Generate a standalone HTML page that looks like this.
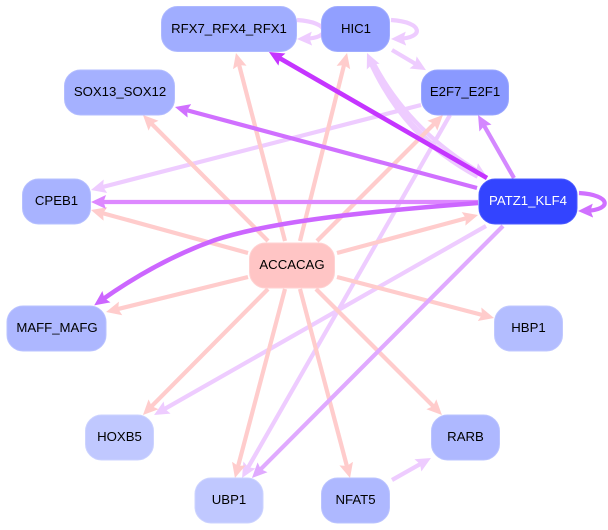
<!DOCTYPE html>
<html>
<head>
<meta charset="utf-8">
<style>
html,body{margin:0;padding:0;background:#fff;width:608px;height:530px;overflow:hidden}
svg{display:block}
text{font-family:"Liberation Sans",sans-serif;font-size:13.2px;text-anchor:middle}
rect{rx:16px;ry:16px;stroke-width:1}
path,line{fill:none}
</style>
</head>
<body>
<svg width="608" height="530" viewBox="0 0 608 530" xmlns="http://www.w3.org/2000/svg">
<defs>
<marker id="a1" markerUnits="userSpaceOnUse" markerWidth="16" markerHeight="16" refX="7" refY="8" orient="auto"><path d="M0 1L15 8L0 15L2.500 8Z" style="fill:#ffcccc"/></marker>
<marker id="a2" markerUnits="userSpaceOnUse" markerWidth="16" markerHeight="16" refX="7" refY="8" orient="auto"><path d="M0 1L15 8L0 15L2.500 8Z" style="fill:#eeccff"/></marker>
<marker id="a3" markerUnits="userSpaceOnUse" markerWidth="16" markerHeight="16" refX="7" refY="8" orient="auto"><path d="M0 1L15 8L0 15L2.500 8Z" style="fill:#c535ff"/></marker>
<marker id="a4" markerUnits="userSpaceOnUse" markerWidth="16" markerHeight="16" refX="7" refY="8" orient="auto"><path d="M0 1L15 8L0 15L2.500 8Z" style="fill:#d070ff"/></marker>
<marker id="a5" markerUnits="userSpaceOnUse" markerWidth="16" markerHeight="16" refX="7" refY="8" orient="auto"><path d="M0 1L15 8L0 15L2.500 8Z" style="fill:#dd88ff"/></marker>
<marker id="a6" markerUnits="userSpaceOnUse" markerWidth="16" markerHeight="16" refX="7" refY="8" orient="auto"><path d="M0 1L15 8L0 15L2.500 8Z" style="fill:#cc66ff"/></marker>
<marker id="a7" markerUnits="userSpaceOnUse" markerWidth="16" markerHeight="16" refX="7" refY="8" orient="auto"><path d="M0 1L15 8L0 15L2.500 8Z" style="fill:#e0aaff"/></marker>
<marker id="a8" markerUnits="userSpaceOnUse" markerWidth="16" markerHeight="16" refX="7" refY="8" orient="auto"><path d="M0 1L15 8L0 15L2.500 8Z" style="fill:#d488ff"/></marker>
</defs>

<!-- pale edges -->
<g stroke="#eeccff" stroke-width="4.2">
<path d="M421 105L98.700 188" marker-end="url(#a2)"/>
<path d="M450 115L246 471.100" marker-end="url(#a2)"/>
<path d="M486 226L161 411" marker-end="url(#a2)"/>
<path d="M392 50L419.100 66" marker-end="url(#a2)"/>
<path d="M392 480L424 461.900" marker-end="url(#a2)"/>
<path d="M297 20C330 22 332 38 305 38.800" marker-end="url(#a2)"/>
<path d="M391 20C424 22 424 38 399 38.800" marker-end="url(#a2)"/>
<path d="M478 176C430 150 395 115 370.300 60.300" stroke-width="6" marker-end="url(#a2)"/>
<path d="M372 60C400 115 440 148 480.200 172.800" marker-end="url(#a2)"/>
</g>

<!-- ACCACAG edges -->
<g stroke="#ffcccc" stroke-width="4.200">
<path d="M285 241L238 60.700" marker-end="url(#a1)"/>
<path d="M300 241L345.100 60.800" marker-end="url(#a1)"/>
<path d="M317 241L437.300 120.700" marker-end="url(#a1)"/>
<path d="M268 241L148.600 120.700" marker-end="url(#a1)"/>
<path d="M248 253L98.700 212.100" marker-end="url(#a1)"/>
<path d="M248 277L113.800 310.100" marker-end="url(#a1)"/>
<path d="M268 289L148.600 409.300" marker-end="url(#a1)"/>
<path d="M285 289L237 470.300" marker-end="url(#a1)"/>
<path d="M300 289L348 470.300" marker-end="url(#a1)"/>
<path d="M316 289L436.300 409.300" marker-end="url(#a1)"/>
<path d="M337 277L486.300 316" marker-end="url(#a1)"/>
<path d="M337 253L470.300 217.100" marker-end="url(#a1)"/>
</g>

<!-- PATZ1 edges -->
<path d="M487 178L275.900 56" stroke="#c535ff" stroke-width="4.600" marker-end="url(#a3)"/>
<path d="M477 188L182.700 109.100" stroke="#d070ff" stroke-width="4.200" marker-end="url(#a4)"/>
<path d="M478 202L99 202" stroke="#dd88ff" stroke-width="4.200" marker-end="url(#a5)"/>
<path d="M514 178L482 122" stroke="#d488ff" stroke-width="4.200" marker-end="url(#a8)"/>
<path d="M478 203C360 212 270 222 215 240C170 256 130 280 100.700 300.700" stroke="#cc66ff" stroke-width="4.600" marker-end="url(#a6)"/>
<path d="M503 226L257.600 472.300" stroke="#e0aaff" stroke-width="4.200" marker-end="url(#a7)"/>
<path d="M579 193C612 195 612 210 586 210.800" stroke="#d070ff" stroke-width="4.200" marker-end="url(#a4)"/>

<!-- nodes -->
<rect x="161.500" y="6.500" width="135" height="45" fill="#a0adff" stroke="#aeb9ff"/>
<text x="229" y="33">RFX7_RFX4_RFX1</text>
<rect x="321.500" y="6.500" width="68" height="45" fill="#919fff" stroke="#a0acff"/>
<text x="356" y="33">HIC1</text>
<rect x="421.500" y="70" width="87" height="45" fill="#8a99ff" stroke="#9aa7ff"/>
<text x="465" y="96">E2F7_E2F1</text>
<rect x="64.500" y="70" width="110" height="45" fill="#a5b1ff" stroke="#b3bdff"/>
<text x="120" y="96">SOX13_SOX12</text>
<rect x="22.500" y="179" width="68" height="45" fill="#a8b3ff" stroke="#b6c0ff"/>
<text x="56.500" y="205">CPEB1</text>
<rect x="479" y="179" width="98" height="45" fill="#3344ff" stroke="#4d5cff"/>
<text x="528" y="205" fill="#ffffff">PATZ1_KLF4</text>
<rect x="249.500" y="243" width="85" height="45" fill="#ffc5c5" stroke="#ffd2d2"/>
<text x="292" y="269">ACCACAG</text>
<rect x="7" y="306" width="99" height="45" fill="#adb7ff" stroke="#bac3ff"/>
<text x="57" y="332">MAFF_MAFG</text>
<rect x="494.500" y="306" width="68" height="45" fill="#b3bdff" stroke="#c0c8ff"/>
<text x="528.500" y="332">HBP1</text>
<rect x="85.500" y="415" width="68" height="45" fill="#c0c8ff" stroke="#ccd3ff"/>
<text x="119.500" y="441">HOXB5</text>
<rect x="431.500" y="415" width="68" height="45" fill="#aeb8ff" stroke="#bbc4ff"/>
<text x="465.500" y="441">RARB</text>
<rect x="195" y="478" width="68" height="45" fill="#c0c8ff" stroke="#ccd3ff"/>
<text x="229" y="504">UBP1</text>
<rect x="321.500" y="478" width="68" height="45" fill="#aeb8ff" stroke="#bbc4ff"/>
<text x="355.500" y="504">NFAT5</text>
</svg>
</body>
</html>
